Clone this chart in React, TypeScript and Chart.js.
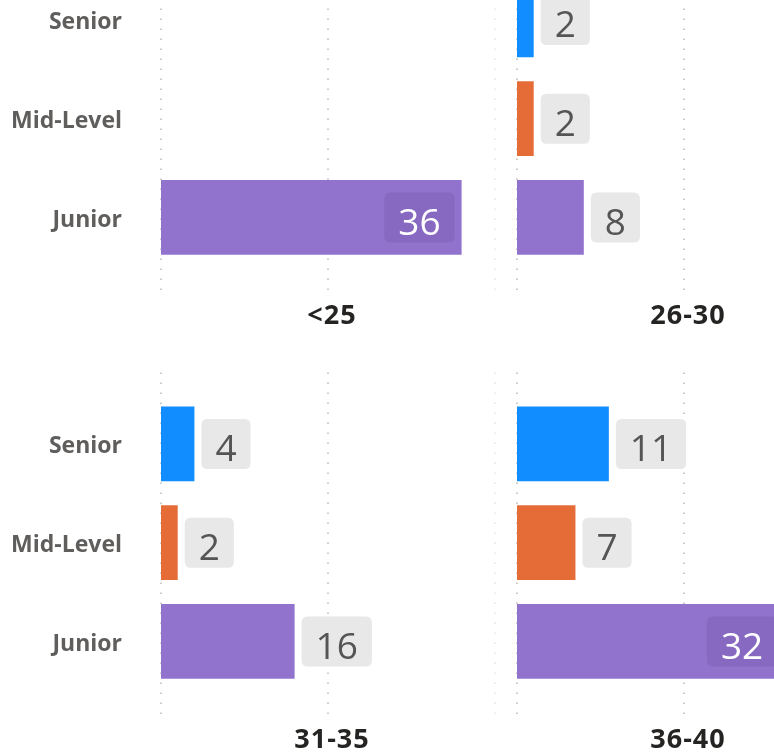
import React, { useEffect, useRef } from 'react';
import { Chart, registerables } from 'chart.js';

Chart.register(...registerables);

// ---- data ----
const levels = ['Senior', 'Mid-Level', 'Junior'];
const ageGroups = ['<25', '26-30', '31-35', '36-40'];
const seniorCounts: (number | null)[] = [null, 2, 4, 11];
const midLevelCounts: (number | null)[] = [null, 2, 2, 7];
const juniorCounts: (number | null)[] = [36, 8, 16, 32];
const xTickValues = [0, 20, 40];
const xMin = 0;
const xMax = 40;
const levelColors = ['#118DFF', '#E66C37', '#9172CC'];

// ---- panel placement (page coords) ----
const CANVAS_W = 500;
const CANVAS_H = 400;
const panelPositions = [
  { left: 0, top: -60, labels: true },
  { left: 356, top: -60, labels: false },
  { left: 0, top: 364.3, labels: true },
  { left: 356, top: 364.3, labels: false },
];

const LABEL_FONT = '37px "Open Sans"';

function roundRect(ctx: CanvasRenderingContext2D, x: number, y: number, w: number, h: number, r: number) {
  ctx.beginPath();
  ctx.moveTo(x + r, y);
  ctx.lineTo(x + w - r, y);
  ctx.quadraticCurveTo(x + w, y, x + w, y + r);
  ctx.lineTo(x + w, y + h - r);
  ctx.quadraticCurveTo(x + w, y + h, x + w - r, y + h);
  ctx.lineTo(x + r, y + h);
  ctx.quadraticCurveTo(x, y + h, x, y + h - r);
  ctx.lineTo(x, y + r);
  ctx.quadraticCurveTo(x, y, x + r, y);
  ctx.closePath();
}

const gridPlugin = {
  id: 'dottedGrid',
  beforeDatasetsDraw(chart: any) {
    const { ctx, chartArea } = chart;
    const xs = chart.scales.x;
    ctx.save();
    ctx.lineWidth = 1.6;
    ctx.setLineDash([1.6, 8.4]);
    xTickValues.forEach((v) => {
      const px = xs.getPixelForValue(v);
      ctx.strokeStyle = v === xMax ? '#e6e6e6' : '#bdbdbd';
      ctx.beginPath();
      ctx.moveTo(px, chartArea.top - 22);
      ctx.lineTo(px, chartArea.bottom + 31);
      ctx.stroke();
    });
    ctx.restore();
  },
};

const valueLabelPlugin = {
  id: 'valueLabels',
  afterDatasetsDraw(chart: any) {
    const { ctx, chartArea } = chart;
    const meta = chart.getDatasetMeta(0);
    const data = chart.data.datasets[0].data;
    ctx.save();
    ctx.font = LABEL_FONT;
    meta.data.forEach((bar: any, i: number) => {
      const v = data[i];
      if (v === null || v === undefined) return;
      const text = String(v);
      const tw = ctx.measureText(text).width;
      const bw = tw + 28;
      const bh = 50;
      const cy = bar.y;
      let bx = bar.x + 7;
      let inside = false;
      if (bx + bw > chartArea.right) {
        inside = true;
        bx = bar.x - 7 - bw;
      }
      ctx.fillStyle = inside ? 'rgba(70,40,120,0.12)' : '#e8e8e8';
      roundRect(ctx, bx, cy - bh / 2, bw, bh, 6);
      ctx.fill();
      ctx.fillStyle = inside ? '#ffffff' : '#555555';
      ctx.textAlign = 'center';
      ctx.textBaseline = 'alphabetic';
      ctx.fillText(text, bx + bw / 2, cy + 17.5);
    });
    ctx.restore();
  },
};

const titlePlugin = {
  id: 'panelTitle',
  afterDraw(chart: any) {
    const { ctx, chartArea } = chart;
    const title = chart.options.plugins.panelTitle.text;
    ctx.save();
    ctx.font = 'bold 27px "Open Sans"';
    (ctx as any).letterSpacing = '1px';
    ctx.fillStyle = '#252423';
    ctx.textAlign = 'center';
    ctx.textBaseline = 'alphabetic';
    ctx.fillText(title, (chartArea.left + chartArea.right) / 2 + 4, chartArea.bottom + 57.5);
    ctx.restore();
  },
};

function Panel({ index }: { index: number }) {
  const ref = useRef<HTMLCanvasElement | null>(null);
  const pos = panelPositions[index];
  useEffect(() => {
    if (!ref.current) return;
    const values = [seniorCounts[index], midLevelCounts[index], juniorCounts[index]];
    const chart = new Chart(ref.current, {
      type: 'bar',
      data: {
        labels: levels,
        datasets: [
          {
            data: values,
            backgroundColor: levelColors,
            borderWidth: 0,
            barPercentage: 0.757,
            categoryPercentage: 1,
          },
        ],
      },
      options: {
        indexAxis: 'y',
        responsive: false,
        animation: false,
        devicePixelRatio: 1,
        layout: { padding: { top: 30.5, bottom: 73.2, left: 0, right: 5 } },
        plugins: {
          legend: { display: false },
          tooltip: { enabled: false },
          title: { display: false },
          panelTitle: { text: ageGroups[index] },
        } as any,
        scales: {
          x: {
            type: 'linear',
            display: false,
            min: xMin,
            max: xMax,
          },
          y: {
            type: 'category',
            display: true,
            grid: { display: false, drawTicks: false },
            border: { display: false },
            ticks: {
              display: pos.labels,
              padding: 39,
              color: '#605E5C',
              font: { family: '"Open Sans"', size: 23, weight: 'bold' },
              labelOffset: 3,
            },
            afterFit: (scale: any) => {
              scale.width = 161;
              scale.paddingTop = 0;
              scale.paddingBottom = 0;
            },
          },
        },
      },
      plugins: [gridPlugin, valueLabelPlugin, titlePlugin],
    });
    return () => chart.destroy();
  }, [index]);
  return (
    <canvas
      ref={ref}
      width={CANVAS_W}
      height={CANVAS_H}
      style={{ position: 'absolute', left: pos.left, top: pos.top, width: CANVAS_W, height: CANVAS_H }}
    />
  );
}

export default function App() {
  return (
    <div
      style={{
        position: 'fixed',
        left: 0,
        top: 0,
        width: 774,
        height: 752,
        overflow: 'hidden',
        background: '#ffffff',
      }}
    >
      {ageGroups.map((_, i) => (
        <Panel key={i} index={i} />
      ))}
    </div>
  );
}
